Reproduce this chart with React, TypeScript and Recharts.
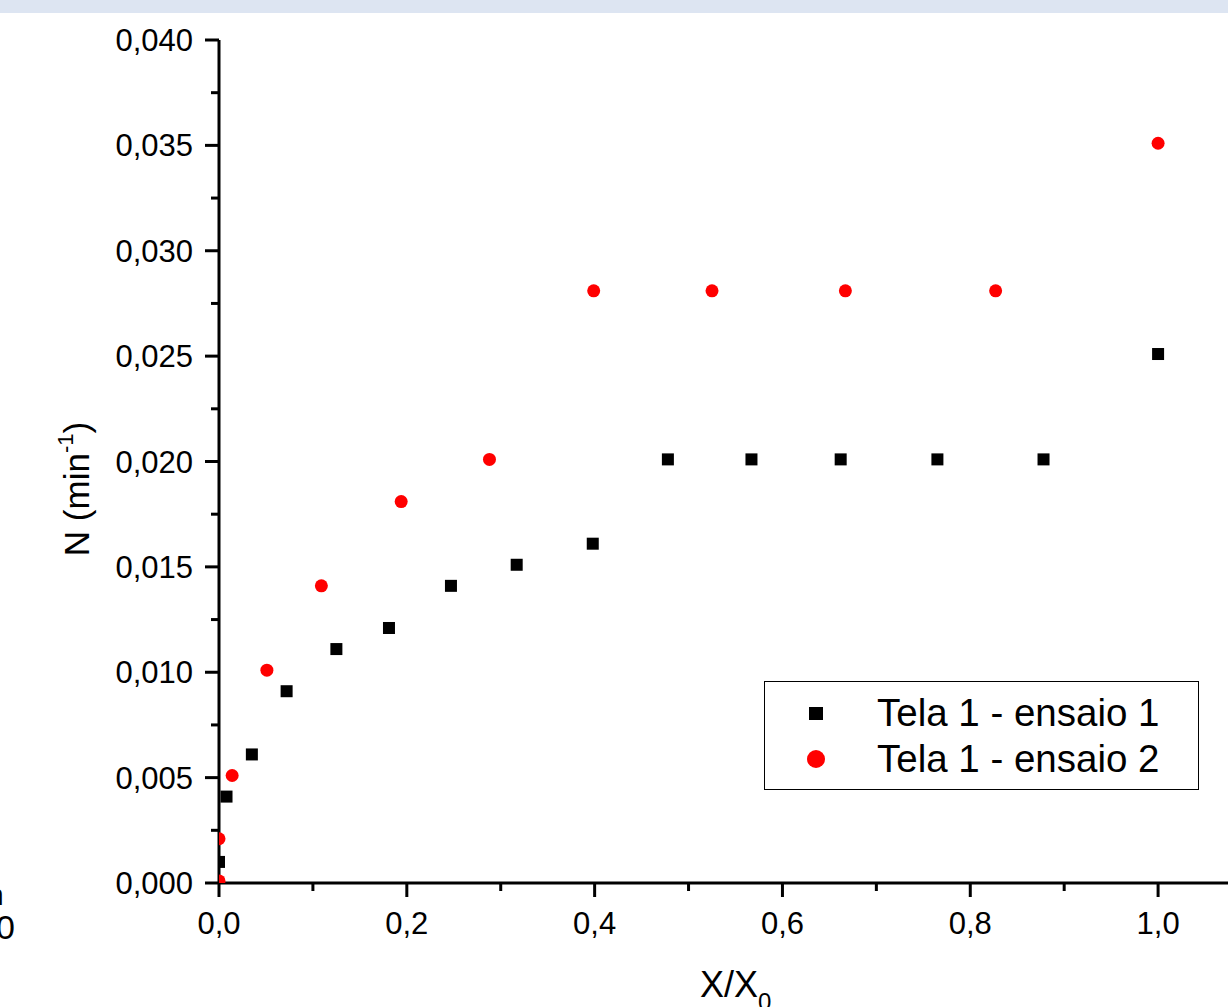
// Gráfico de dispersão N x X/X0 — Tela 1, ensaios 1 e 2
import React from 'react';
import {
  ScatterChart,
  Scatter,
  XAxis,
  YAxis,
  Legend,
} from 'recharts';

// ensaio 1 (quadrados pretos)
const ensaio1X = [0, 0.008, 0.035, 0.072, 0.125, 0.181, 0.247, 0.317, 0.398, 0.478, 0.567, 0.662, 0.765, 0.878, 1.0];
const ensaio1Y = [0.001, 0.0041, 0.0061, 0.0091, 0.0111, 0.0121, 0.0141, 0.0151, 0.0161, 0.0201, 0.0201, 0.0201, 0.0201, 0.0201, 0.0251];

// ensaio 2 (círculos vermelhos)
const ensaio2X = [0, 0, 0.014, 0.051, 0.109, 0.194, 0.288, 0.399, 0.525, 0.667, 0.827, 1.0];
const ensaio2Y = [0.0001, 0.0021, 0.0051, 0.0101, 0.0141, 0.0181, 0.0201, 0.0281, 0.0281, 0.0281, 0.0281, 0.0351];

const xTicks = [0, 0.1, 0.2, 0.3, 0.4, 0.5, 0.6, 0.7, 0.8, 0.9, 1.0, 1.1];
const yTicks = [
  0, 0.0025, 0.005, 0.0075, 0.01, 0.0125, 0.015, 0.0175, 0.02, 0.0225,
  0.025, 0.0275, 0.03, 0.0325, 0.035, 0.0375, 0.04,
];

const serie1 = ensaio1X.map((x, i) => ({ x, y: ensaio1Y[i] }));
const serie2 = ensaio2X.map((x, i) => ({ x, y: ensaio2Y[i] }));

const FONT = '"Liberation Sans", Arial, sans-serif';

function XTick(props: any) {
  const { x, y, payload } = props;
  const v = payload.value as number;
  const major = Math.round(v * 10) % 2 === 0;
  return (
    <g>
      <line x1={x} x2={x} y1={y} y2={y + (major ? 14 : 8)} stroke="#000" strokeWidth={3} />
      {major && v <= 1.0001 && (
        <text x={x} y={y + 51} textAnchor="middle" fontSize={31} fontFamily={FONT} fill="#000">
          {v.toFixed(1).replace('.', ',')}
        </text>
      )}
    </g>
  );
}

function YTick(props: any) {
  const { x, y, payload } = props;
  const v = payload.value as number;
  const major = Math.round(v / 0.0025) % 2 === 0;
  return (
    <g>
      <line x1={x - (major ? 14 : 8)} x2={x} y1={y} y2={y} stroke="#000" strokeWidth={3} />
      {major && (
        <text x={x - 26} y={y + 11} textAnchor="end" fontSize={31} fontFamily={FONT} fill="#000">
          {v.toFixed(3).replace('.', ',')}
        </text>
      )}
    </g>
  );
}

const Square = (p: any) => (
  <rect x={p.cx - 6} y={p.cy - 6} width={12} height={12} fill="#000" />
);
const Dot = (p: any) => <circle cx={p.cx} cy={p.cy} r={6.5} fill="#ff0000" />;

function LegendBox() {
  const row = (marker: React.ReactNode, label: string) => (
    <div style={{ display: 'flex', alignItems: 'center', height: 46 }}>
      <div style={{ width: 100, display: 'flex', justifyContent: 'center', marginLeft: 1 }}>{marker}</div>
      <span style={{ marginLeft: 11, fontSize: 38.5, fontFamily: FONT, color: '#000', whiteSpace: 'nowrap' }}>
        {label}
      </span>
    </div>
  );
  return (
    <div
      style={{
        width: 435,
        height: 109,
        border: '1.5px solid #000',
        background: '#fff',
        boxSizing: 'border-box',
        paddingTop: 8,
      }}
    >
      {row(<div style={{ width: 14, height: 13, background: '#000' }} />, 'Tela 1 - ensaio 1')}
      {row(<div style={{ width: 18, height: 18, borderRadius: 9, background: '#ff0000' }} />, 'Tela 1 - ensaio 2')}
    </div>
  );
}

export default function App() {
  return (
    <div style={{ position: 'fixed', inset: 0, overflow: 'hidden', background: '#fff' }}>
      <div style={{ position: 'absolute', left: 0, top: 0, width: 1228, height: 13, background: '#dde5f2' }} />
      {/* fragmentos do gráfico vizinho, cortados na borda */}
      <div style={{ position: 'absolute', left: -13, top: 880, fontSize: 30, fontFamily: FONT, lineHeight: 1 }}>n</div>
      <div style={{ position: 'absolute', left: -4, top: 910, fontSize: 34, fontFamily: FONT, lineHeight: 1 }}>0</div>
      <div style={{ position: 'absolute', left: 0, top: 0 }}>
        <ScatterChart width={1262} height={1007} margin={{ top: 40, right: 10, bottom: 64, left: 0 }}>
          <XAxis
            type="number"
            dataKey="x"
            domain={[0, 1.1]}
            ticks={xTicks}
            interval={0}
            allowDataOverflow
            height={60}
            tickSize={0}
            tickMargin={0}
            tickLine={false}
            tick={<XTick />}
            axisLine={{ stroke: '#000', strokeWidth: 3 }}
            label={() => (
              <text x={700} y={997} fontSize={36} fontFamily={FONT} fill="#000">
                X/X
                <tspan fontSize={24} dy={13}>0</tspan>
              </text>
            )}
          />
          <XAxis
            xAxisId="top"
            orientation="top"
            type="number"
            dataKey="x"
            domain={[0, 1.1]}
            height={0}
            tick={false}
            tickLine={false}
            axisLine={{ stroke: '#000', strokeWidth: 2.5 }}
          />
          <YAxis
            type="number"
            dataKey="y"
            domain={[0, 0.04]}
            ticks={yTicks}
            interval={0}
            allowDataOverflow
            width={219}
            tickSize={0}
            tickMargin={0}
            tickLine={false}
            tick={<YTick />}
            axisLine={{ stroke: '#000', strokeWidth: 3 }}
            label={() => (
              <text
                x={89}
                y={489}
                transform="rotate(-90, 89, 489)"
                textAnchor="middle"
                fontSize={35}
                fontFamily={FONT}
                fill="#000"
              >
                N (min
                <tspan fontSize={22} dy={-16}>-1</tspan>
                <tspan dy={16}>)</tspan>
              </text>
            )}
          />
          <Legend
            layout="horizontal"
            verticalAlign="middle"
            align="center"
            content={<LegendBox />}
            wrapperStyle={{ position: 'absolute', left: 764, top: 681, width: 435, height: 109 }}
          />
          <Scatter name="Tela 1 - ensaio 1" data={serie1} shape={Square} isAnimationActive={false} />
          <Scatter name="Tela 1 - ensaio 2" data={serie2} shape={Dot} isAnimationActive={false} />
        </ScatterChart>
      </div>
    </div>
  );
}
